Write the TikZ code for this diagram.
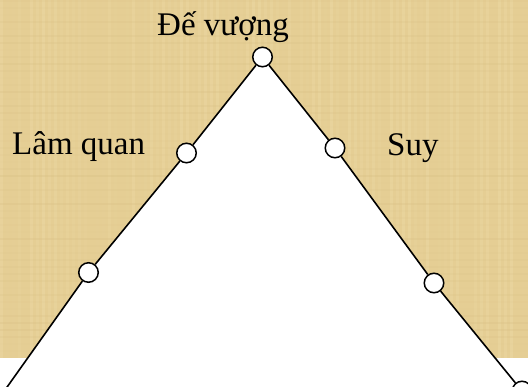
\documentclass[tikz,border=0pt]{standalone}
\usepackage{fontspec}
\setmainfont{Liberation Serif}
\begin{document}
\begin{tikzpicture}[x=1pt,y=-1pt,
  dot/.style={circle,draw=black,fill=white,line width=1.5pt,minimum size=19.5pt,inner sep=0pt},
  edge/.style={draw=black,line width=1.6pt},
  lbl/.style={font=\fontsize{33}{40}\selectfont,anchor=base west,inner sep=0pt,text=black}]
\definecolor{parch}{RGB}{229,206,148}
\definecolor{parchlight}{RGB}{240,222,172}
\definecolor{parchdark}{RGB}{214,190,130}
\useasboundingbox (0,0) rectangle (528,387);
\clip (0,0) rectangle (528,387);
% background
\fill[parch] (0,0) rectangle (528,358);
\pgfmathsetseed{7}
\foreach \i in {0,6,...,522}{
  \pgfmathsetmacro{\op}{rnd*0.35}
  \fill[parchlight,opacity=\op] (\i,0) rectangle ++(3,358);
}
\foreach \j in {0,7,...,351}{
  \pgfmathsetmacro{\op}{rnd*0.3}
  \fill[parchdark,opacity=\op] (0,\j) rectangle ++(528,2.5);
}
\fill[white] (0,358) rectangle (528,387);
% points
\coordinate (A) at (262.5,57);
\coordinate (L1) at (186.5,153);
\coordinate (L2) at (88.5,272.5);
\coordinate (LB) at (0,397);
\coordinate (R1) at (335,148);
\coordinate (R2) at (434,283);
\coordinate (RB) at (522,391);
% triangle body
\fill[white] (A) -- (L1) -- (L2) -- (LB) -- (0,400) -- (540,400) -- (RB) -- (R2) -- (R1) -- cycle;
% circles
\node[dot] (a) at (A) {};
\node[dot] (l1) at (L1) {};
\node[dot] (l2) at (L2) {};
\node[dot] (r1) at (R1) {};
\node[dot] (r2) at (R2) {};
\node[dot] (rb) at (RB) {};
% sides
\draw[edge] (a) -- (l1);
\draw[edge] (l1) -- (l2);
\draw[edge] (l2) -- (LB);
\draw[edge] (a) -- (r1);
\draw[edge] (r1) -- (r2);
\draw[edge] (r2) -- (rb);
% labels
\node[lbl] (t1) at (157,36) {Đế vượng};
\node[lbl] (t2) at (12,155) {Lâm quan};
\node[lbl] (t3) at (387,156) {Suy};
\end{tikzpicture}
\end{document}
